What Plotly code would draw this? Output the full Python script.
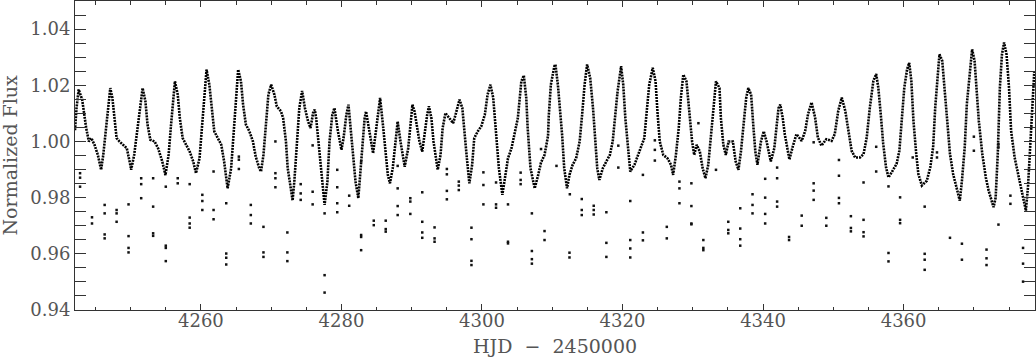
import plotly.graph_objects as go

# main light curve
t_curve = [
  4242.08, 4242.3, 4242.6, 4243.1, 4243.67, 4244.05, 4244.4, 4244.86, 4245.33, 4245.8,
  4246.1, 4246.5, 4246.85, 4247.1, 4247.4, 4247.7, 4248.0, 4248.4, 4248.9, 4249.45,
  4249.9, 4250.07, 4250.5, 4251.0, 4251.4, 4251.7, 4252.1, 4252.4, 4252.8, 4253.4,
  4253.9, 4254.5, 4254.95, 4255.4, 4255.75, 4256.1, 4256.3, 4256.7, 4257.0, 4257.4,
  4257.9, 4258.4, 4258.9, 4259.3, 4259.8, 4260.2, 4260.5, 4260.8, 4261.2, 4261.5,
  4261.9, 4262.4, 4262.9, 4263.3, 4263.8, 4264.3, 4264.6, 4265.0, 4265.3, 4265.7,
  4266.0, 4266.4, 4266.9, 4267.4, 4267.8, 4268.3, 4268.55, 4268.9, 4269.3, 4269.6,
  4270.0, 4270.45, 4270.8, 4271.4, 4271.7, 4272.1, 4272.35, 4272.8, 4273.05, 4273.3,
  4273.6, 4274.0, 4274.4, 4274.8, 4275.25, 4275.6, 4276.0, 4276.2, 4276.4, 4276.8,
  4277.1, 4277.6, 4278.0, 4278.3, 4278.7, 4279.0, 4279.5, 4280.0, 4280.3, 4280.7,
  4281.0, 4281.3, 4281.65, 4282.0, 4282.4, 4282.7, 4283.0, 4283.3, 4283.5, 4284.0,
  4284.5, 4284.9, 4285.2, 4285.5, 4285.9, 4286.3, 4286.6, 4286.9, 4287.3, 4287.7,
  4288.0, 4288.4, 4288.8, 4289.0, 4289.5, 4289.8, 4290.1, 4290.4, 4290.7, 4291.1,
  4291.5, 4291.8, 4292.2, 4292.45, 4292.8, 4293.1, 4293.5, 4293.7, 4294.1, 4294.4,
  4294.8, 4295.3, 4295.9, 4296.3, 4296.8, 4297.2, 4297.5, 4297.85, 4298.2, 4298.6,
  4298.9, 4299.4, 4299.9, 4300.4, 4300.8, 4301.2, 4301.6, 4302.0, 4302.4, 4302.9,
  4303.2, 4303.7, 4304.2, 4304.6, 4305.1, 4305.6, 4305.95, 4306.3, 4306.5, 4306.9,
  4307.5, 4308.0, 4308.4, 4308.9, 4309.4, 4309.5, 4309.8, 4310.3, 4310.45, 4310.8,
  4311.1, 4311.4, 4311.7, 4312.1, 4312.45, 4312.9, 4313.4, 4313.9, 4314.25, 4314.6,
  4314.96, 4315.4, 4315.8, 4316.1, 4316.4, 4316.7, 4317.2, 4317.7, 4318.2, 4318.6,
  4319.0, 4319.3, 4319.8, 4320.1, 4320.4, 4320.75, 4321.1, 4321.7, 4322.2, 4322.6,
  4323.1, 4323.4, 4323.8, 4324.3, 4324.7, 4325.0, 4325.3, 4325.8, 4326.4, 4326.9,
  4327.2, 4327.6, 4328.0, 4328.3, 4328.65, 4329.1, 4329.5, 4329.9, 4330.2, 4330.55,
  4331.0, 4331.4, 4331.8, 4332.2, 4332.6, 4332.9, 4333.3, 4333.8, 4334.0, 4334.35,
  4334.7, 4335.1, 4335.7, 4336.1, 4336.5, 4336.85, 4337.2, 4337.6, 4337.9, 4338.3,
  4338.6, 4338.9, 4339.2, 4339.7, 4340.1, 4340.5, 4340.9, 4341.1, 4341.6, 4341.9,
  4342.2, 4342.45, 4342.8, 4343.1, 4343.5, 4343.75, 4344.25, 4344.75, 4345.5, 4346.0,
  4346.4, 4346.9, 4347.4, 4347.8, 4348.3, 4349.0, 4349.75, 4350.2, 4350.7, 4351.2,
  4351.7, 4352.1, 4352.6, 4353.1, 4353.8, 4354.3, 4354.75, 4355.2, 4355.7, 4356.1,
  4356.4, 4356.75, 4357.1, 4357.5, 4357.85, 4358.3, 4359.0, 4359.4, 4359.75, 4360.1,
  4360.5, 4360.8, 4361.1, 4361.4, 4361.8, 4362.1, 4362.6, 4363.3, 4363.8, 4364.2,
  4364.5, 4364.85, 4365.1, 4365.5, 4365.8, 4366.2, 4366.6, 4367.05, 4367.6, 4368.0,
  4368.3, 4368.7, 4369.0, 4369.4, 4369.75, 4370.1, 4370.4, 4370.7, 4371.2, 4371.7,
  4372.1, 4372.8, 4373.1, 4373.4, 4373.7, 4374.0, 4374.3, 4374.65, 4375.0, 4375.3,
  4375.8, 4376.4, 4376.9, 4377.4, 4377.7, 4378.1, 4378.6,
]
f_curve = [
  1.004, 1.012, 1.0185, 1.0149, 1.0048, 1.000, 1.0012, 0.9988, 0.9952, 0.9899,
  0.9952, 1.0048, 1.0131, 1.019, 1.0155, 1.0083, 1.0012, 1.000, 0.9988, 0.9976,
  0.9923, 0.9899, 0.9952, 1.0048, 1.0131, 1.019, 1.0143, 1.006, 1.0006, 1.000,
  0.9976, 0.9929, 0.988, 0.9952, 1.006, 1.0167, 1.0214, 1.0167, 1.0083, 1.0012,
  0.9988, 0.9964, 0.9929, 0.9887, 0.994, 1.006, 1.0179, 1.0256, 1.0202, 1.0119,
  1.0036, 1.0012, 0.9988, 0.9929, 0.9833, 0.9905, 1.000, 1.0155, 1.0256, 1.0214,
  1.0131, 1.006, 1.0036, 1.000, 0.9946, 0.9905, 0.9893, 0.9952, 1.006, 1.0167,
  1.0202, 1.0167, 1.0125, 1.0107, 1.0083, 1.000, 0.9905, 0.9821, 0.979, 0.986,
  0.996, 1.0119, 1.018, 1.0119, 1.0071, 1.0048, 1.0107, 1.0113, 1.0083, 0.9976,
  0.9881, 0.9774, 0.9857, 1.000, 1.0095, 1.0119, 1.0036, 0.997, 1.0012, 1.0095,
  1.0131, 1.0048, 0.994, 0.9857, 0.9798, 0.9905, 1.000, 1.0083, 1.0107, 1.0036,
  0.9958, 1.0036, 1.0107, 1.0155, 1.006, 0.9964, 0.9881, 0.9851, 0.9905, 1.000,
  1.0071, 1.000, 0.994, 0.991, 0.9976, 1.006, 1.0131, 1.0107, 1.006, 1.000,
  0.9964, 1.0024, 1.0095, 1.0125, 1.0083, 1.000, 0.9929, 0.9899, 0.9952, 1.0048,
  1.0101, 1.0083, 1.0065, 1.0101, 1.0149, 1.0119, 1.0024, 0.994, 0.9851, 0.9917,
  1.0012, 1.0036, 1.0054, 1.0095, 1.0167, 1.0202, 1.0155, 1.0024, 0.9905, 0.981,
  0.9857, 0.994, 0.9976, 1.0024, 1.0083, 1.0214, 1.0235, 1.0155, 1.0048, 0.9905,
  0.9833, 0.9881, 0.9925, 0.9952, 1.002, 1.009, 1.0202, 1.0268, 1.0274, 1.0202,
  1.0119, 1.0024, 0.9905, 0.9833, 0.9881, 0.9917, 0.994, 1.000, 1.0095, 1.0202,
  1.0274, 1.0226, 1.0119, 1.000, 0.9905, 0.9863, 0.9905, 0.9929, 0.9952, 1.000,
  1.0095, 1.0179, 1.0268, 1.0202, 1.0083, 0.9976, 0.9893, 0.9917, 0.9952, 0.9976,
  1.0012, 1.0095, 1.0202, 1.0262, 1.0214, 1.0095, 1.000, 0.9952, 0.994, 0.9917,
  0.9881, 0.9952, 1.0048, 1.0155, 1.0238, 1.0214, 1.0107, 1.000, 0.9952, 0.9988,
  0.9964, 0.9905, 0.9869, 0.9917, 1.0024, 1.0119, 1.0214, 1.019, 1.0083, 0.9988,
  0.9952, 1.000, 1.000, 0.9929, 0.9899, 0.9964, 1.0048, 1.0155, 1.019, 1.0167,
  1.006, 0.9964, 0.9917, 1.000, 1.0036, 1.000, 0.9952, 0.9929, 0.9976, 1.006,
  1.0119, 1.0131, 1.0083, 1.0024, 0.9964, 0.9936, 0.9984, 1.0026, 1.0002, 1.0038,
  1.0097, 1.0139, 1.0086, 1.0014, 0.9985, 1.0008, 1.0002, 1.0026, 1.0109, 1.0156,
  1.0109, 1.005, 0.9967, 0.9943, 0.9943, 0.9955, 1.0014, 1.0121, 1.0216, 1.024,
  1.0192, 1.0097, 0.9991, 0.9908, 0.9872, 0.989, 0.992, 0.9967, 1.0074, 1.0192,
  1.0257, 1.028, 1.0216, 1.0074, 0.9955, 0.9884, 0.9843, 0.986, 0.9908, 0.9979,
  1.0121, 1.024, 1.031, 1.0287, 1.0192, 1.0074, 0.9955, 0.9884, 0.9825, 0.9789,
  0.986, 0.9979, 1.0133, 1.0251, 1.0328, 1.0287, 1.0192, 1.0074, 0.9955, 0.9872,
  0.9825, 0.9766, 0.98, 0.9955, 1.0192, 1.031, 1.0352, 1.031, 1.0192, 1.0038,
  0.9943, 0.9872, 0.9813, 0.9754, 0.9837, 1.0014, 1.0251,
]

# scattered low points
t_out = [
  4242.8, 4242.8, 4242.8, 4244.5, 4244.5, 4246.3, 4246.3, 4246.3, 4246.3,
  4248.0, 4248.0, 4248.0, 4249.7, 4249.7, 4249.7, 4249.7, 4251.5, 4251.5, 4251.5,
  4253.2, 4253.2, 4253.2, 4253.2, 4255.0, 4255.0, 4255.0, 4255.0, 4256.7, 4256.7,
  4258.4, 4258.4, 4258.4, 4258.4, 4260.2, 4260.2, 4260.2, 4261.8, 4261.8, 4261.8,
  4263.6, 4263.6, 4263.6, 4263.6, 4265.4, 4265.4, 4265.4, 4267.1, 4267.1, 4267.1,
  4268.9, 4268.9, 4268.9, 4270.6, 4270.6, 4270.6, 4270.6, 4272.3, 4272.3, 4272.3,
  4274.2, 4274.2, 4274.2, 4275.9, 4275.9, 4275.9, 4277.6, 4277.6, 4277.6,
  4279.4, 4279.4, 4279.4, 4279.4, 4281.1, 4281.1, 4282.8, 4282.8, 4282.8, 4282.8,
  4284.6, 4284.6, 4286.3, 4286.3, 4286.3, 4288.0, 4288.0, 4288.0, 4288.0,
  4289.8, 4289.8, 4289.8, 4291.5, 4291.5, 4291.5, 4291.5, 4293.25, 4293.25, 4293.25,
  4295.0, 4295.0, 4295.0, 4295.0, 4296.7, 4296.7, 4296.7, 4298.5, 4298.5, 4298.5, 4298.5,
  4300.2, 4300.2, 4300.2, 4302.0, 4302.0, 4302.0, 4303.7, 4303.7, 4303.7,
  4305.5, 4305.5, 4305.5, 4307.1, 4307.1, 4307.1, 4307.1, 4308.4, 4308.9, 4308.9,
  4310.6, 4312.45, 4312.45, 4312.5, 4314.2, 4314.2, 4314.2, 4315.9, 4315.9, 4315.9,
  4317.7, 4317.7, 4317.7, 4319.4, 4319.4, 4321.1, 4321.1, 4321.1, 4321.1,
  4322.9, 4322.9, 4322.9, 4324.6, 4324.6, 4324.6, 4326.3, 4326.3,
  4328.1, 4328.1, 4328.1, 4329.8, 4329.8, 4329.8, 4329.8, 4330.8, 4331.5, 4331.5, 4331.5,
  4333.3, 4335.05, 4335.05, 4335.05, 4336.75, 4336.75, 4336.75, 4336.75,
  4338.5, 4338.5, 4338.5, 4340.3, 4340.3, 4340.3, 4340.3, 4342.0, 4342.0, 4342.0, 4342.0,
  4343.7, 4343.7, 4345.5, 4345.5, 4347.2, 4347.2, 4347.2, 4347.2, 4349.0, 4349.0,
  4350.8, 4350.8, 4350.8, 4350.8, 4352.5, 4352.5, 4352.5, 4354.3, 4354.3, 4354.3, 4354.3,
  4356.1, 4356.1, 4357.85, 4357.85, 4357.85, 4359.5, 4359.5, 4359.5, 4361.3,
  4363.0, 4363.0, 4363.0, 4363.0, 4364.75, 4364.75, 4366.6, 4368.3, 4368.3,
  4370.0, 4370.0, 4371.8, 4371.8, 4371.8, 4373.5, 4373.5, 4373.5, 4375.2, 4375.2,
  4377.0, 4377.0, 4377.0,
]
f_out = [
  0.9887, 0.9871, 0.9839, 0.973, 0.9708, 0.9774, 0.9744, 0.9669, 0.9655,
  0.9756, 0.9744, 0.9714, 0.9776, 0.9663, 0.9621, 0.9605, 0.9869, 0.9848, 0.9798,
  0.9869, 0.9768, 0.9673, 0.9664, 0.9839, 0.9629, 0.9621, 0.9574, 0.9869, 0.9851,
  0.9848, 0.9729, 0.9708, 0.9693, 0.981, 0.9788, 0.9756, 0.9893, 0.9756, 0.9723,
  0.978, 0.9601, 0.9586, 0.9562, 0.9946, 0.9935, 0.9902, 0.9774, 0.9738, 0.9708,
  0.9696, 0.9605, 0.9589, 1.000, 0.9887, 0.9869, 0.9837, 0.9676, 0.9605, 0.9574,
  0.9848, 0.9815, 0.9792, 0.9986, 0.9821, 0.9776, 0.9744, 0.9524, 0.9462,
  0.9899, 0.9837, 0.978, 0.9748, 0.9807, 0.9771, 0.9929, 0.9667, 0.966, 0.9613,
  0.9718, 0.9702, 0.9718, 0.9688, 0.9679, 0.9913, 0.9833, 0.977, 0.9738,
  0.9798, 0.9786, 0.9742, 0.9819, 0.9714, 0.9676, 0.9657, 0.9694, 0.9655, 0.9643,
  0.9902, 0.9883, 0.9824, 0.9794, 0.9857, 0.9843, 0.9827, 0.9693, 0.9652, 0.9575, 0.956,
  0.989, 0.9845, 0.9776, 0.9854, 0.9776, 0.9764, 0.9776, 0.9643, 0.9637,
  0.9889, 0.9863, 0.9848, 0.9744, 0.961, 0.9581, 0.9565, 0.9973, 0.9681, 0.9649,
  0.9913, 0.9604, 0.9587, 0.9812, 0.9795, 0.9756, 0.9738, 0.9771, 0.9756, 0.974,
  0.9748, 0.9639, 0.9589, 0.9985, 0.9907, 0.9788, 0.9649, 0.9619, 0.9587,
  0.9881, 0.9676, 0.9648, 1.0004, 0.997, 0.9932, 0.9696, 0.9655,
  0.9857, 0.9833, 0.978, 0.9851, 0.977, 0.9708, 0.9705, 1.0065, 0.9649, 0.9621, 0.9613,
  0.9899, 0.9714, 0.9685, 0.9673, 0.9762, 0.969, 0.9652, 0.9629,
  0.9812, 0.9774, 0.9744, 0.9867, 0.98, 0.9742, 0.9708, 0.9907, 0.9869, 0.9786, 0.9768,
  0.966, 0.9649, 0.9736, 0.970, 0.9997, 0.9851, 0.9825, 0.9792, 0.9728, 0.970,
  0.9934, 0.9878, 0.9799, 0.978, 0.9734, 0.9692, 0.968, 0.9854, 0.9721, 0.9677, 0.9662,
  0.9981, 0.9893, 0.984, 0.9603, 0.9573, 0.9801, 0.9721, 0.9709, 0.9943,
  0.9768, 0.960, 0.9579, 0.9543, 0.9961, 0.9943, 0.9657, 0.9636, 0.9579,
  1.0017, 0.9967, 0.9615, 0.9584, 0.956, 0.999, 0.9979, 0.9704, 0.9807, 0.9778,
  0.9621, 0.9565, 0.9501,
]

x_ticks = [4260, 4280, 4300, 4320, 4340, 4360]
y_ticks = [0.94, 0.96, 0.98, 1.00, 1.02, 1.04]

font = dict(family='DejaVu Serif', size=18, color='#555')
title_font = dict(family='DejaVu Serif', size=19, color='#555')

fig = go.Figure()
fig.add_trace(go.Scatter(x=t_curve, y=f_curve, mode='lines',
  line=dict(color='#000', width=2.6, dash='2px,1px'), hoverinfo='skip'))
fig.add_trace(go.Scatter(x=t_out, y=f_out, mode='markers',
  marker=dict(color='#111', size=2.5, symbol='square'), hoverinfo='skip'))

axis = dict(showline=True, linecolor='#333', linewidth=1, mirror='allticks',
            ticks='inside', tickcolor='#333', showgrid=False, zeroline=False,
            tickfont=font)
fig.update_xaxes(range=[4242.08, 4378.7], tickvals=x_ticks, ticklen=6, ticklabelstandoff=-6,
                 minor=dict(dtick=5, tick0=4240, ticks='inside', ticklen=3.5, tickcolor='#333'),
                 **axis)
fig.update_yaxes(range=[0.94, 1.05], tickvals=y_ticks, tickformat='.2f', ticklen=11,
                 minor=dict(dtick=0.005, tick0=0.94, ticks='inside', ticklen=11, tickcolor='#333'),
                 **axis)

fig.add_annotation(text='HJD\u00a0\u00a0\u2212\u00a0\u00a02450000', xref='paper', yref='paper',
                   x=0.5, y=0, yshift=-49, yanchor='bottom', showarrow=False, font=title_font)
fig.add_annotation(text='Normalized Flux', xref='paper', yref='paper', textangle=-90,
                   x=0, xshift=-66, y=0.5, xanchor='center', showarrow=False, font=title_font)

fig.update_layout(width=1036, height=359, margin=dict(l=75, r=1, t=1, b=49),
                  paper_bgcolor='white', plot_bgcolor='white', showlegend=False)

# page body margin would push the figure off the window
fig.write_html("out.html", config={'displayModeBar': False},
               post_script="document.body.style.margin='0';")
